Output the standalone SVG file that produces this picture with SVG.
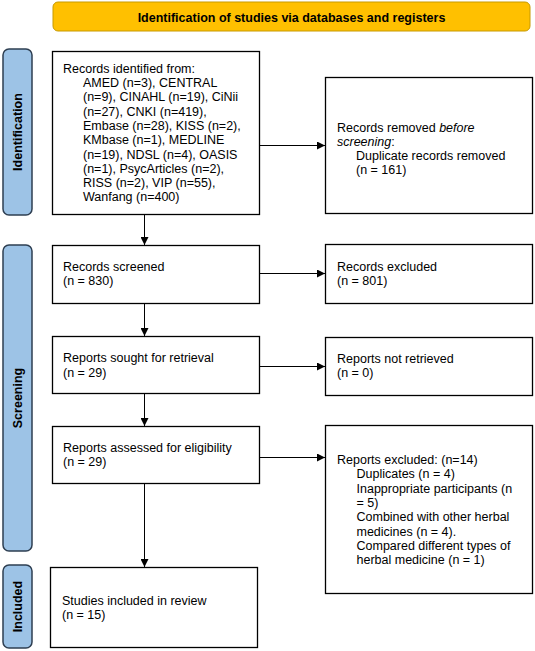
<svg xmlns="http://www.w3.org/2000/svg" width="535" height="651" viewBox="0 0 535 651">
<style>
text{font-family:"Liberation Sans",Arial,sans-serif;font-size:12.5px;fill:#000}
.box{fill:#fff;stroke:#000;stroke-width:1.3}
.side{fill:#9dc3e6;stroke:#2e3f52;stroke-width:1.5}
.head{fill:#ffc000;stroke:#c79a00;stroke-width:1}
.b{font-weight:bold}
.conn line{stroke:#000;stroke-width:1;marker-end:url(#arr)}
</style>
<defs>
<marker id="arr" viewBox="0 0 10 10" refX="10" refY="5" markerWidth="8" markerHeight="8" markerUnits="userSpaceOnUse" orient="auto">
<path d="M0,0 L10,5 L0,10 z" fill="#000"/>
</marker>
</defs>
<g id="banner">
<rect class="head" x="53" y="2" width="477" height="29" rx="5"/>
<text class="b" x="291.5" y="21.5" text-anchor="middle">Identification of studies via databases and registers</text>
</g>
<g id="side-identification">
<rect class="side" x="3" y="49" width="29" height="166" rx="6"/>
<text class="b" transform="translate(22,132) rotate(-90)" text-anchor="middle">Identification</text>
</g>
<g id="side-screening">
<rect class="side" x="3" y="245" width="29" height="306" rx="6"/>
<text class="b" transform="translate(22,398) rotate(-90)" text-anchor="middle">Screening</text>
</g>
<g id="side-included">
<rect class="side" x="3" y="565" width="29" height="83" rx="6"/>
<text class="b" transform="translate(22,606.5) rotate(-90)" text-anchor="middle">Included</text>
</g>
<g id="records-identified">
<rect class="box" x="52.5" y="51.5" width="207" height="163"/>
<text x="63" y="72.7">Records identified from:</text>
<text x="83" y="87">AMED (n=3), CENTRAL</text>
<text x="83" y="101.3">(n=9), CINAHL (n=19), CiNii</text>
<text x="83" y="115.6">(n=27), CNKI (n=419),</text>
<text x="83" y="129.9">Embase (n=28), KISS (n=2),</text>
<text x="83" y="144.2">KMbase (n=1), MEDLINE</text>
<text x="83" y="158.5">(n=19), NDSL (n=4), OASIS</text>
<text x="83" y="172.8">(n=1), PsycArticles (n=2),</text>
<text x="83" y="187.1">RISS (n=2), VIP (n=55),</text>
<text x="83" y="201.4">Wanfang (n=400)</text>
</g>
<g id="records-removed">
<rect class="box" x="325.5" y="77.5" width="207" height="136"/>
<text x="337" y="131.5">Records removed <tspan font-style="italic">before</tspan></text>
<text x="337" y="145.8"><tspan font-style="italic">screening</tspan>:</text>
<text x="356" y="160.1">Duplicate records removed</text>
<text x="356" y="174.4">(n = 161)</text>
</g>
<g id="records-screened">
<rect class="box" x="52.5" y="245.5" width="207" height="58"/>
<text x="63" y="271">Records screened</text>
<text x="63" y="285.3">(n = 830)</text>
</g>
<g id="records-excluded">
<rect class="box" x="325.5" y="244.5" width="207" height="59"/>
<text x="337" y="271">Records excluded</text>
<text x="337" y="285.3">(n = 801)</text>
</g>
<g id="reports-sought">
<rect class="box" x="52.5" y="336.5" width="207" height="57"/>
<text x="63" y="362.3">Reports sought for retrieval</text>
<text x="63" y="376.6">(n = 29)</text>
</g>
<g id="reports-not-retrieved">
<rect class="box" x="325.5" y="337.5" width="207" height="58"/>
<text x="337" y="363">Reports not retrieved</text>
<text x="337" y="377.3">(n = 0)</text>
</g>
<g id="reports-assessed">
<rect class="box" x="52.5" y="426.5" width="207" height="57"/>
<text x="63" y="451.7">Reports assessed for eligibility</text>
<text x="63" y="466">(n = 29)</text>
</g>
<g id="reports-excluded">
<rect class="box" x="325.5" y="425.5" width="207" height="168"/>
<text x="337" y="464">Reports excluded: (n=14)</text>
<text x="356.5" y="478.3">Duplicates (n = 4)</text>
<text x="356.5" y="492.6">Inappropriate participants (n</text>
<text x="356.5" y="506.9">= 5)</text>
<text x="356.5" y="521.2">Combined with other herbal</text>
<text x="356.5" y="535.5">medicines (n = 4).</text>
<text x="356.5" y="549.8">Compared different types of</text>
<text x="356.5" y="564.1">herbal medicine (n = 1)</text>
</g>
<g id="studies-included">
<rect class="box" x="50.5" y="567.5" width="207" height="80"/>
<text x="62" y="604.5">Studies included in review</text>
<text x="62" y="618.8">(n = 15)</text>
</g>
<g id="connectors" class="conn">
<line x1="144.5" y1="215" x2="144.5" y2="245"/>
<line x1="144.5" y1="304" x2="144.5" y2="336"/>
<line x1="144.5" y1="394" x2="144.5" y2="426"/>
<line x1="144.5" y1="484" x2="144.5" y2="567"/>
<line x1="260" y1="145.5" x2="325" y2="145.5"/>
<line x1="260" y1="273.5" x2="325" y2="273.5"/>
<line x1="260" y1="366.5" x2="325" y2="366.5"/>
<line x1="260" y1="457.5" x2="325" y2="457.5"/>
</g>
</svg>
